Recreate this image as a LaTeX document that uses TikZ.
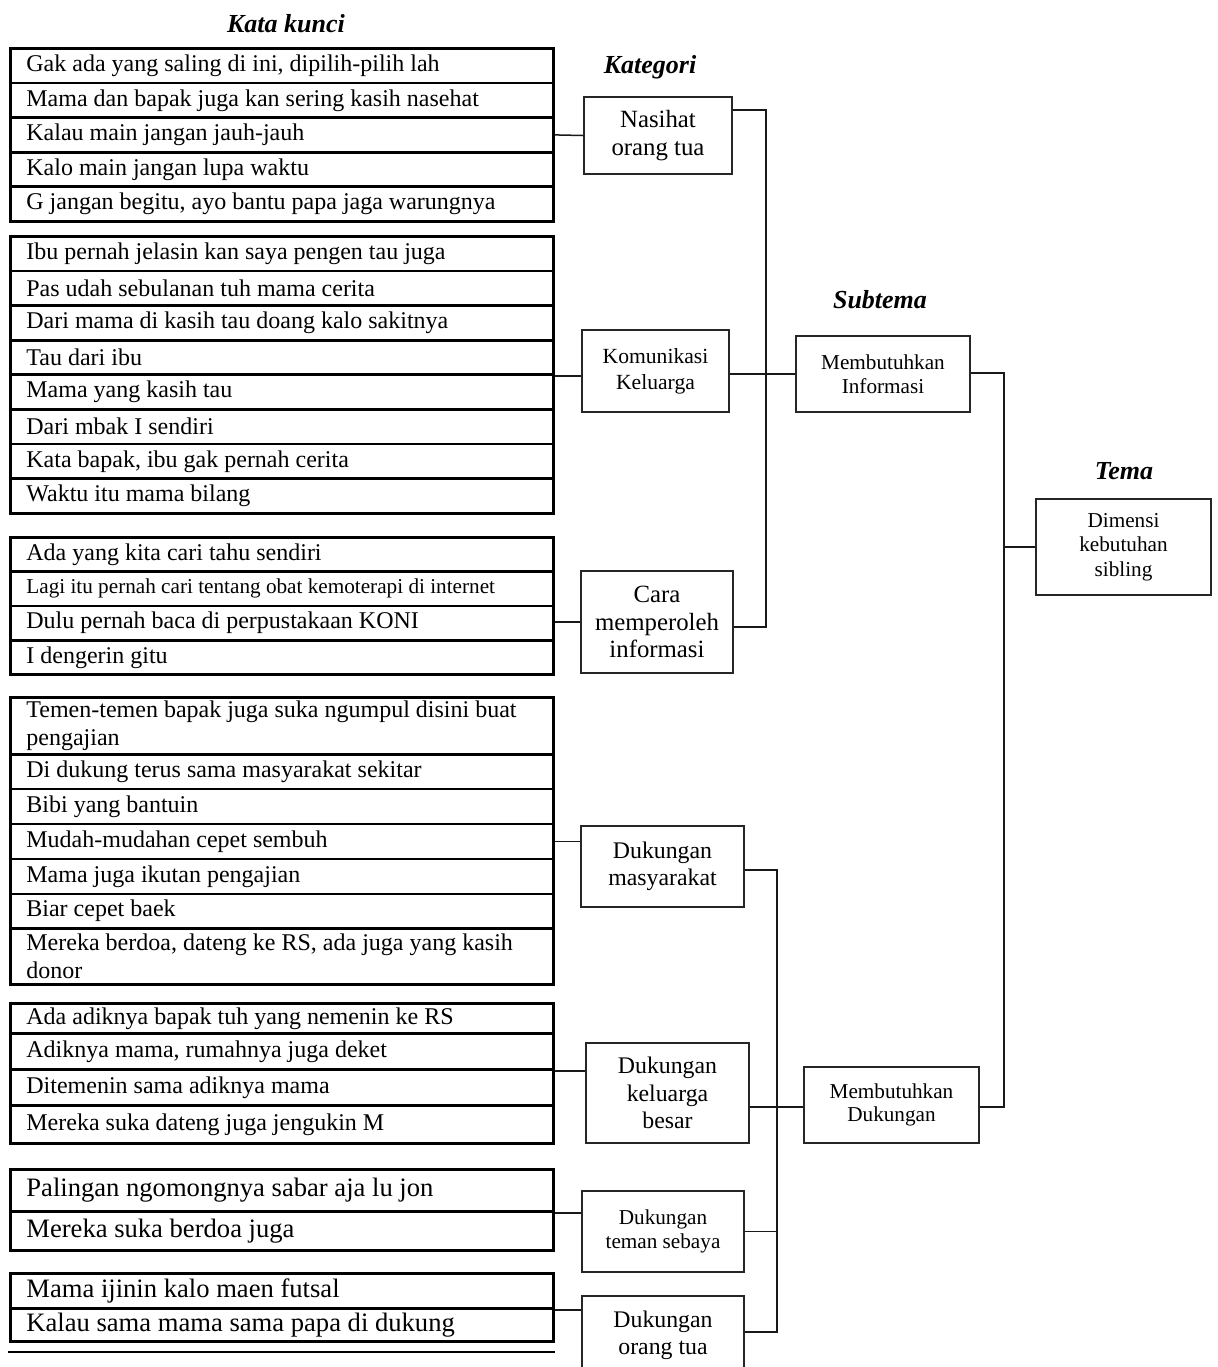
\documentclass[tikz,border=0pt]{standalone}
\usepackage{fontspec}
\setmainfont{Liberation Serif}
\usetikzlibrary{positioning}
\newcommand{\kecil}{\fontsize{10.6}{12}\selectfont}
\newcommand{\rowh}{34.6}

\tikzset{
  kw/.style={draw=black, line width=1.4pt, anchor=north west, text width=255.5pt,
    inner xsep=8pt, inner ysep=0pt, align=flush left, font=\fontsize{12}{13.8}\selectfont},
  kwbig/.style={kw, font=\fontsize{13.3}{15}\selectfont},
  cat/.style={draw=black!85, line width=1pt, align=center, inner sep=0pt},
  catbig/.style={cat, font=\fontsize{12.4}{13.6}\selectfont},
  catmid/.style={cat, font=\fontsize{11.9}{13.6}\selectfont},
  catsmall/.style={cat, font=\fontsize{10.6}{11.8}\selectfont},
  judul/.style={font=\fontsize{13}{15}\selectfont\bfseries\itshape},
  link/.style={line width=0.75pt, black!90}
}

\begin{document}
\begin{tikzpicture}[x=0.5pt, y=-0.5pt]
\useasboundingbox (0,0) rectangle (1217,1367);

% judul kolom
\node[judul] (tkunci) at (286,24) {Kata kunci};
\node[judul] (tkat) at (650,67) {Kategori};
\node[judul] (tsub) at (880,300) {Subtema};
\node[judul] (ttema) at (1124,471) {Tema};

% kata kunci
\foreach \t [count=\i] in {{Gak ada yang saling di ini, dipilih-pilih lah},
  {Mama dan bapak juga kan sering kasih nasehat},{Kalau main jangan jauh-jauh},
  {Kalo main jangan lupa waktu},{G jangan begitu, ayo bantu papa jaga warungnya}}
  \node[kw, minimum height=\rowh*0.5pt] (g1-\i) at (9,{47+(\i-1)*\rowh}) {\t};
\foreach \t [count=\i] in {{Ibu pernah jelasin kan saya pengen tau juga},
  {Pas udah sebulanan tuh mama cerita},{Dari mama di kasih tau doang kalo sakitnya},
  {Tau dari ibu},{Mama yang kasih tau},{Dari mbak I sendiri},
  {Kata bapak, ibu gak pernah cerita},{Waktu itu mama bilang}}
  \node[kw, minimum height=\rowh*0.5pt] (g2-\i) at (9,{235+(\i-1)*\rowh}) {\t};
\foreach \t [count=\i] in {{Ada yang kita cari tahu sendiri},
  {\kecil Lagi itu pernah cari tentang obat kemoterapi di internet},
  {Dulu pernah baca di perpustakaan KONI},{I dengerin gitu}}
  \node[kw, minimum height=34.3*0.5pt] (g3-\i) at (9,{536+(\i-1)*34.3}) {\t};
\foreach \y/\h/\t [count=\i] in {696/57/{Temen-temen bapak juga suka ngumpul disini buat\\pengajian},
  753/34.5/{Di dukung terus sama masyarakat sekitar},787.5/35/{Bibi yang bantuin},
  822.5/35/{Mudah-mudahan cepet sembuh},857.5/35/{Mama juga ikutan pengajian},
  892.5/34.5/{Biar cepet baek},927/56/{Mereka berdoa, dateng ke RS, ada juga yang kasih\\donor}}
  \node[kw, minimum height=\h*0.5pt] (g4-\i) at (9,\y) {\t};
\foreach \y/\h/\t [count=\i] in {1002/30/{Ada adiknya bapak tuh yang nemenin ke RS},
  1032/36/{Adiknya mama, rumahnya juga deket},1068/36/{Ditemenin sama adiknya mama},
  1104/38/{Mereka suka dateng juga jengukin M}}
  \node[kw, minimum height=\h*0.5pt] (g5-\i) at (9,\y) {\t};
\foreach \y/\h/\t [count=\i] in {1168/42/{Palingan ngomongnya sabar aja lu jon},
  1210/39/{Mereka suka berdoa juga}}
  \node[kwbig, minimum height=\h*0.5pt] (g6-\i) at (9,\y) {\t};
\foreach \y/\h/\t [count=\i] in {1272/35/{Mama ijinin kalo maen futsal},
  1307/33/{Kalau sama mama sama papa di dukung}}
  \node[kwbig, minimum height=\h*0.5pt] (g7-\i) at (9,\y) {\t};

% kategori
\node[catbig, minimum width=74pt, minimum height=38.5pt] (nasihat) at (658,135.5) {Nasihat\\orang tua};
\node[cat, font=\fontsize{10.8}{13}\selectfont, minimum width=73.5pt, minimum height=41pt] (komunikasi) at (655.5,371) {Komunikasi\\Keluarga};
\node[catbig, minimum width=76pt, minimum height=51pt] (cara) at (657,622) {Cara\\memperoleh\\informasi};
\node[catmid, minimum width=81.5pt, minimum height=40.5pt] (masyarakat) at (662.5,866.5) {Dukungan\\masyarakat};
\node[catmid, minimum width=81.5pt, minimum height=50pt] (keluarga) at (667.5,1093) {Dukungan\\keluarga\\besar};
\node[catsmall, minimum width=81pt, minimum height=40.5pt] (teman) at (663,1231.5) {Dukungan\\teman sebaya};
\node[catmid, minimum width=81pt, minimum height=39pt] (ortu) at (663,1335) {Dukungan\\orang tua};

% subtema dan tema
\node[catsmall, minimum width=87pt, minimum height=38pt] (info) at (883,374) {Membutuhkan\\Informasi};
\node[catsmall, minimum width=87.5pt, minimum height=38pt] (dukungan) at (891.5,1105) {Membutuhkan\\Dukungan};
\node[cat, font=\fontsize{10.6}{12.3}\selectfont, minimum width=87.5pt, minimum height=48pt] (tema) at (1123.5,547) {Dimensi\\kebutuhan\\sibling};

\coordinate (ka) at (766,110);
\coordinate (kb) at (766,627);
\coordinate (sa) at (1004,373);
\coordinate (sb) at (1004,1107);
\coordinate (da) at (777,870);
\coordinate (db) at (777,1332);
\coordinate (garis) at (8,1352);

% kata kunci ke kategori
\draw[link] (g1-3.east) -- (nasihat.west);
\draw[link] (g2-4.south east) -- (g2-4.south east -| komunikasi.west);
\draw[link] (cara.west) -- (cara.west -| g3-3.east);
\draw[link] (g4-4.east) -- (g4-4.east -| masyarakat.west);
\draw[link] (g5-2.south east) -- (g5-2.south east -| keluarga.west);
\draw[link] (g6-1.south east) -- (g6-1.south east -| teman.west);
\draw[link] (g7-1.south east) -- (g7-1.south east -| ortu.west);

% kategori ke subtema
\draw[link] (nasihat.east |- ka) -- (ka) -- (kb) -- (cara.east |- kb);
\draw[link] (komunikasi.east |- info.west) -- (info.west);
\draw[link] (masyarakat.east |- da) -- (da) -- (db) -- (ortu.east |- db);
\draw[link] (teman.east) -- (teman.east -| da);
\draw[link] (keluarga.east |- sb) -- (dukungan.west |- sb);

% subtema ke tema
\draw[link] (info.east |- sa) -- (sa) -- (sb) -- (dukungan.east |- sb);
\draw[link] (sa |- tema.west) -- (tema.west);

\draw[line width=1.4pt] (garis) -- (garis -| g7-2.east);
\end{tikzpicture}
\end{document}
